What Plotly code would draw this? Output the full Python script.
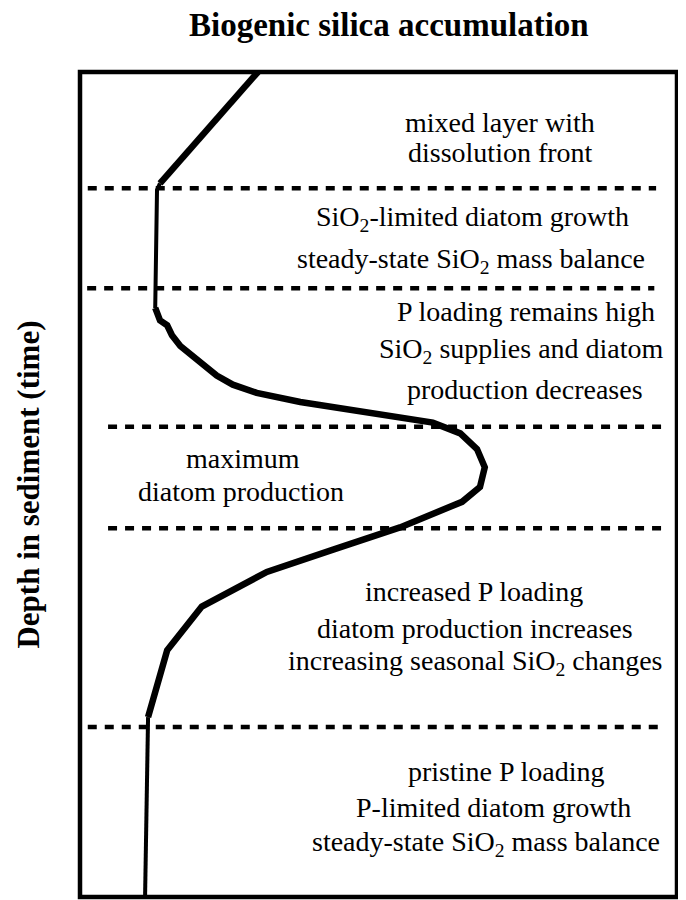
import plotly.graph_objects as go

# Biogenic silica profile (relative accumulation, 0-100) vs depth (0 = top, 100 = bottom)
accumulation = [29.8, 13.4, 12.9, 12.6, 13.4, 14.6, 15.4, 16.8, 18.9, 21.3, 22.9, 25.6, 29.6, 36.9,
                48.1, 59.1, 63.7, 66.5, 67.8, 67.0, 64.0, 53.6, 42.4, 31.3, 20.4, 14.6, 11.4, 10.9]
depth = [0, 13.5, 14.3, 28.6, 30.1, 30.7, 31.9, 33.2, 34.5, 35.8, 36.8, 37.9, 38.9, 40.0,
         41.3, 42.5, 43.8, 45.7, 47.9, 50.3, 52.1, 55.2, 57.9, 60.6, 64.8, 70.1, 78.2, 100]

# zone boundaries (dashed lines)
boundary_depth = [14.1, 26.2, 43.0, 55.3, 79.4]
boundary_start = [1.3, 1.2, 4.7, 4.7, 1.3]
boundary_end = [96.5, 96.2, 98.0, 98.0, 98.0]

# zone descriptions, one entry per text line
label_text = [
    "mixed layer with", "dissolution front",
    "SiO<sub>2</sub>-limited diatom growth", "steady-state SiO<sub>2</sub> mass balance",
    "P loading remains high", "SiO<sub>2</sub> supplies and diatom", "production decreases",
    "maximum", "diatom production",
    "increased P loading", "diatom production increases", "increasing seasonal SiO<sub>2</sub> changes",
    "pristine P loading", "P-limited diatom growth", "steady-state SiO<sub>2</sub> mass balance",
]
label_x = [70.4, 70.4, 65.8, 65.5, 74.7, 73.9, 74.5, 27.3, 27.0, 66.0, 66.2, 66.2, 71.4, 69.2, 68.0]
label_y = [6.1, 9.7, 17.8, 22.8, 29.0, 33.7, 38.5, 46.9, 50.9, 63.0, 67.4, 71.6, 84.8, 89.1, 93.5]

SERIF = "Liberation Serif, Times New Roman, serif"

fig = go.Figure()

# dashed zone boundaries
for d, x0, x1 in zip(boundary_depth, boundary_start, boundary_end):
    fig.add_trace(go.Scatter(
        x=[x0, x1], y=[d, d], mode='lines',
        line=dict(color='black', width=4.5, dash='9px,8px'),
        showlegend=False, hoverinfo='skip'
    ))

# thin vertical (steady-state) parts of the profile
for a, b in [(1, 4), (26, 28)]:
    fig.add_trace(go.Scatter(
        x=accumulation[a:b], y=depth[a:b], mode='lines',
        line=dict(color='black', width=4),
        showlegend=False, hoverinfo='skip'
    ))

# thick parts of the profile
for a, b in [(0, 2), (3, 27)]:
    fig.add_trace(go.Scatter(
        x=accumulation[a:b], y=depth[a:b], mode='lines',
        line=dict(color='black', width=6.5),
        showlegend=False, hoverinfo='skip'
    ))

for txt, x, y in zip(label_text, label_x, label_y):
    fig.add_annotation(
        x=x, y=y, xref='x', yref='y', text=txt, showarrow=False,
        xanchor='center', yanchor='middle',
        font=dict(family=SERIF, size=28, color='black')
    )

# title and axis title
fig.add_annotation(
    x=0.518, y=1.057, xref='paper', yref='paper',
    text="<b>Biogenic silica accumulation</b>", showarrow=False,
    xanchor='center', yanchor='middle',
    font=dict(family=SERIF, size=33, color='black')
)
fig.add_annotation(
    x=-0.087, y=0.5, xref='paper', yref='paper',
    text="<b>Depth in sediment (time)</b>", showarrow=False, textangle=-90,
    xanchor='center', yanchor='middle',
    font=dict(family=SERIF, size=31, color='black')
)

# frame
fig.add_shape(type='rect', xref='paper', yref='paper', x0=0, x1=1, y0=0, y1=1,
              line=dict(color='black', width=4.5))

# page body has an 8px margin, so the figure is shrunk to keep the plot frame in place
fig.update_layout(
    width=678, height=892,
    margin=dict(l=72, r=9, t=64, b=3),
    plot_bgcolor='white', paper_bgcolor='white',
    xaxis=dict(range=[0, 100], visible=False, fixedrange=True),
    yaxis=dict(range=[100, 0], visible=False, fixedrange=True),
    showlegend=False
)

fig.write_html("out.html")
